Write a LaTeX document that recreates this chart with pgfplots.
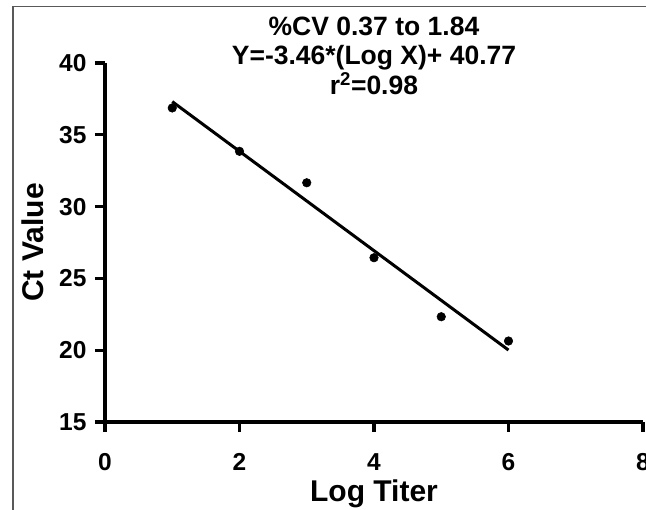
\documentclass[border=0pt]{standalone}
\usepackage{pgfplots}
\pgfplotsset{compat=1.18}
\usepackage{fontspec}
\setmainfont{Liberation Sans}
\pgfplotsset{every axis/.append style={line width=3.2bp}}
\begin{document}
\begin{tikzpicture}
\path[use as bounding box, clip] (0,0) rectangle (646bp,510bp);
\draw[line width=1.5bp, black!65] (13bp,0) -- (13bp,503.5bp) -- (646bp,503.5bp);
\begin{axis}[
  at={(105bp,88bp)}, anchor=south west,
  scale only axis, width=538bp, height=359bp,
  xmin=0, xmax=8, ymin=15, ymax=40,
  axis x line*=bottom, axis y line*=left,
  xtick={0,2,4,6,8}, ytick={15,20,25,30,35,40},
  tick align=outside, major tick length=10bp,
  axis line style={line width=3.2bp, black},
  major tick style={line width=3.2bp, black},
  /pgf/number format/assume math mode=true,
  ticklabel style={font=\fontsize{24.5bp}{24.5bp}\selectfont\bfseries},
  xticklabel style={anchor=center, yshift=-30bp},
  yticklabel style={anchor=east, inner sep=0pt, xshift=-7bp},
  xlabel={Log Titer}, ylabel={Ct Value},
  xlabel style={at={(axis description cs:0.5,-0.2)}, anchor=center, font=\fontsize{30bp}{30bp}\selectfont\bfseries},
  ylabel style={at={(axis description cs:-0.1338,0.5)}, anchor=center, font=\fontsize{30bp}{30bp}\selectfont\bfseries},
  title={\%CV 0.37 to 1.84\\Y=-3.46*(Log X)+ 40.77\\r\textsuperscript{2}=0.98},
  title style={at={(axis description cs:0.5,1)}, anchor=north, yshift=42bp, inner sep=0pt, align=center, font=\fontsize{26.5bp}{29.5bp}\selectfont\bfseries},
  clip=false,
]
\addplot[only marks, mark=*, mark size=4.3bp, black, line width=0.5bp] coordinates {
  (1,36.87) (2,33.85) (3,31.66) (4,26.44) (5,22.33) (6,20.64)
};
\addplot[line width=3bp, black, no marks] coordinates {
  (1,37.31) (6,20.01)
};
\end{axis}
\end{tikzpicture}
\end{document}
